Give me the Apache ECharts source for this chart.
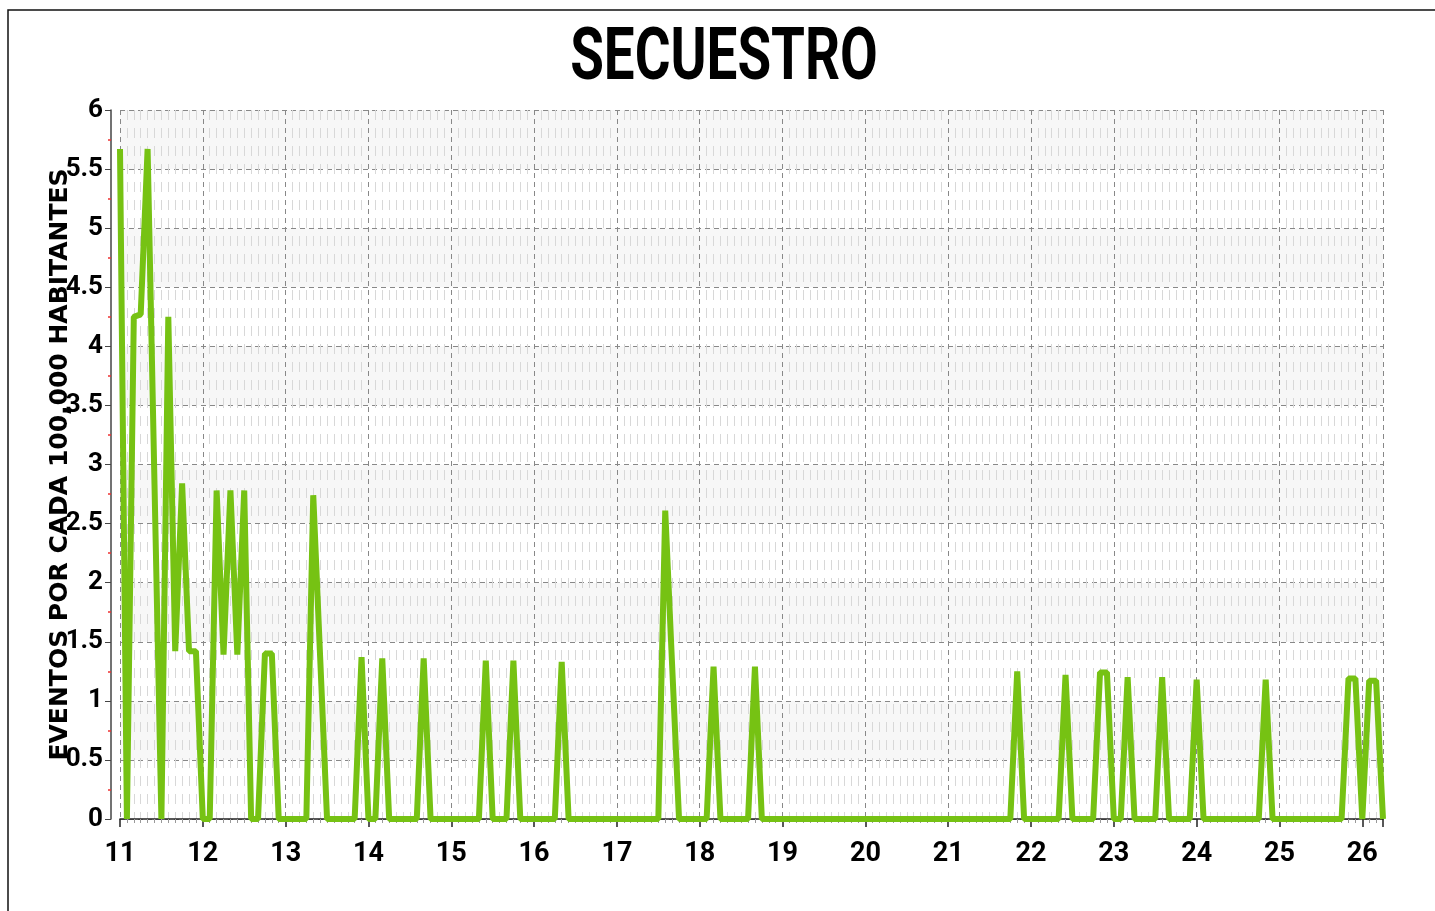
<!DOCTYPE html>
<html>
<head>
<meta charset="utf-8">
<title>SECUESTRO</title>
<script src="https://cdn.jsdelivr.net/npm/echarts@6/dist/echarts.min.js"></script>
<style>
  html, body { margin: 0; padding: 0; background: #fff; }
  #main { width: 1435px; height: 911px; }
</style>
</head>
<body>
<div id="main"></div>
<script>
// meses desde enero 2011 (11 = 2011)
var startYear = 11;
var values = [
  5.67, 0, 4.25, 4.27, 5.67, 2.83, 0, 4.25, 1.42, 2.84, 1.42, 1.42,
  0, 0, 2.78, 1.39, 2.78, 1.39, 2.78, 0, 0, 1.40, 1.40, 0,
  0, 0, 0, 0, 2.74, 1.37, 0, 0, 0, 0, 0, 1.37,
  0, 0, 1.36, 0, 0, 0, 0, 0, 1.36, 0, 0, 0,
  0, 0, 0, 0, 0, 1.34, 0, 0, 0, 1.34, 0, 0,
  0, 0, 0, 0, 1.33, 0, 0, 0, 0, 0, 0, 0,
  0, 0, 0, 0, 0, 0, 0, 2.61, 1.30, 0, 0, 0,
  0, 0, 1.29, 0, 0, 0, 0, 0, 1.29, 0, 0, 0,
  0, 0, 0, 0, 0, 0, 0, 0, 0, 0, 0, 0,
  0, 0, 0, 0, 0, 0, 0, 0, 0, 0, 0, 0,
  0, 0, 0, 0, 0, 0, 0, 0, 0, 0, 1.25, 0,
  0, 0, 0, 0, 0, 1.22, 0, 0, 0, 0, 1.24, 1.24,
  0, 0, 1.20, 0, 0, 0, 0, 1.20, 0, 0, 0, 0,
  1.18, 0, 0, 0, 0, 0, 0, 0, 0, 0, 1.18, 0,
  0, 0, 0, 0, 0, 0, 0, 0, 0, 0, 1.19, 1.19,
  0, 1.17, 1.17, 0
];
var yTicks = [0, 0.5, 1, 1.5, 2, 2.5, 3, 3.5, 4, 4.5, 5, 5.5, 6];

var points = values.map(function (v, i) {
  return [startYear + i / 12, v];
});

var myChart = echarts.init(document.getElementById('main'));

var tickFont = "Roboto, 'Liberation Sans', sans-serif";

var option = {
  backgroundColor: '#fff',
  animation: false,
  grid: { left: 120, right: 52, top: 110, bottom: 92 },
  graphic: [
    {
      type: 'rect',
      silent: true,
      shape: { x: 8, y: 10, width: 1440, height: 920 },
      style: { fill: 'none', stroke: '#111', lineWidth: 1.5 }
    },
    {
      type: 'text',
      x: 724, y: 61,
      scaleX: 0.75,
      style: {
        text: 'SECUESTRO',
        font: "bold 73px Roboto, sans-serif",
        fill: '#000',
        align: 'center',
        verticalAlign: 'middle'
      }
    }
  ],
  xAxis: {
    type: 'value',
    min: 11,
    max: startYear + (values.length - 1) / 12,
    interval: 1,
    offset: 14,
    axisLine: { lineStyle: { color: '#222', width: 1.5 } },
    axisTick: { inside: false, length: 8, lineStyle: { color: '#222', width: 1.5 } },
    minorTick: { show: true, splitNumber: 12, length: 4, lineStyle: { color: '#999' } },
    axisLabel: {
      color: '#000',
      fontSize: 27,
      fontWeight: 'bold',
      fontFamily: tickFont,
      margin: 8,
      showMaxLabel: false,
      formatter: function (v) { return v % 1 === 0 ? String(v) : ''; }
    },
    splitLine: { show: true, lineStyle: { color: '#888', type: [5, 4], width: 1 } },
    minorSplitLine: { show: true, lineStyle: { color: '#d8d8d8', type: [10, 8], width: 1 } }
  },
  yAxis: {
    type: 'value',
    min: yTicks[0],
    max: yTicks[yTicks.length - 1],
    interval: 0.5,
    offset: 9,
    name: 'EVENTOS POR CADA 100,000 HABITANTES',
    nameLocation: 'middle',
    nameMoveOverlap: false,
    nameGap: 38,
    nameTextStyle: {
      color: '#000',
      fontSize: 25,
      fontWeight: 'bold',
      fontFamily: "'DejaVu Sans', 'Liberation Sans', sans-serif"
    },
    axisLine: { show: true, lineStyle: { color: '#444', width: 1.5 } },
    axisTick: { show: true, length: 6, lineStyle: { color: '#444' } },
    minorTick: { show: true, splitNumber: 2, length: 3, lineStyle: { color: '#e33', width: 1.5 } },
    axisLabel: {
      color: '#000',
      fontSize: 26,
      fontWeight: 'bold',
      fontFamily: tickFont,
      margin: 8
    },
    splitLine: { show: true, lineStyle: { color: '#888', type: [5, 4], width: 1 } },
    splitArea: { show: true, areaStyle: { color: ['#ffffff', '#f7f7f7'] } }
  },
  series: [{
    name: 'Secuestro',
    type: 'line',
    data: points,
    showSymbol: false,
    symbol: 'none',
    lineStyle: { color: '#76c213', width: 6 },
    itemStyle: { color: '#76c213' }
  }]
};

myChart.setOption(option);
</script>
</body>
</html>
